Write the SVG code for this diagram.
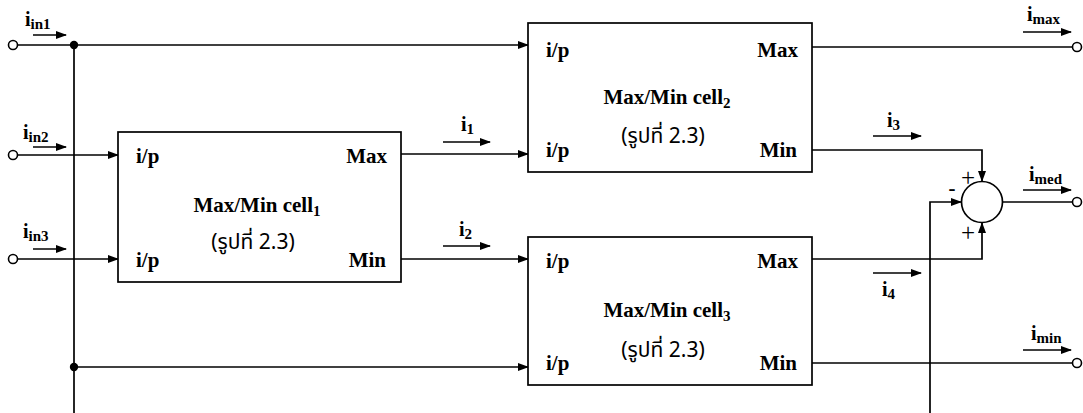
<svg xmlns="http://www.w3.org/2000/svg" width="1083" height="413" viewBox="0 0 1083 413">
<defs>
<marker id="ah" markerWidth="11" markerHeight="9" refX="10" refY="4" orient="auto" markerUnits="userSpaceOnUse"><path d="M0,0 L11,4 L0,8 Z" fill="#000"/></marker>
<style>
.w{stroke:#000;stroke-width:1.7;fill:none}
.a{stroke:#000;stroke-width:1.7;fill:none;marker-end:url(#ah)}
.box{stroke:#000;stroke-width:1.7;fill:#fff}
.t{font-family:"Liberation Serif","Times New Roman",serif;font-weight:bold;font-size:21px;fill:#000}
.l{font-family:"Liberation Serif","Times New Roman",serif;font-weight:bold;font-size:20px;fill:#000}
.s{font-size:15px}
.th{font-family:"Noto Sans Thai","Noto Sans","DejaVu Sans",sans-serif;font-size:21px;fill:#000}
.term{stroke:#000;stroke-width:1.6;fill:#fff}
.pm{font-family:"Liberation Serif",serif;font-size:25px;fill:#000}
</style>
</defs>
<rect width="1083" height="413" fill="#fff"/>
<g id="connectors">
<path class="a" d="M17,45 H528"/>
<path class="w" d="M74,45 V413"/>
<path class="a" d="M74,367 H528"/>
<path class="a" d="M17,155 H118"/>
<path class="a" d="M17,259 H118"/>
<path class="a" d="M401,154 H528"/>
<path class="a" d="M401,259 H528"/>
<path class="w" d="M812,47 H1073"/>
<path class="a" d="M812,150 H982 V181"/>
<path class="a" d="M812,259 H982 V223"/>
<path class="a" d="M930,413 V202 H961"/>
<path class="w" d="M1003,202 H1073"/>
<path class="w" d="M812,363 H1073"/>
<circle cx="74" cy="45" r="4.2" fill="#000"/>
<circle cx="74" cy="367" r="4.2" fill="#000"/>
<path class="a" d="M33,35 H66"/>
<path class="a" d="M33,147 H66"/>
<path class="a" d="M33,249 H66"/>
<path class="a" d="M443,142 H490"/>
<path class="a" d="M443,246 H490"/>
<path class="a" d="M873,136 H921"/>
<path class="a" d="M873,273 H921"/>
<path class="a" d="M1023,32 H1071"/>
<path class="a" d="M1023,190 H1071"/>
<path class="a" d="M1023,350 H1071"/>
</g>
<g id="terminals">
<circle class="term" cx="13" cy="45" r="4.5"/>
<circle class="term" cx="13" cy="155" r="4.5"/>
<circle class="term" cx="13" cy="259" r="4.5"/>
<circle class="term" cx="1077" cy="47" r="4.5"/>
<circle class="term" cx="1077" cy="202" r="4.5"/>
<circle class="term" cx="1077" cy="363" r="4.5"/>
</g>
<g id="labels">
<text class="l" x="25" y="26">i<tspan class="s" dy="3">in1</tspan></text>
<text class="l" x="23" y="139">i<tspan class="s" dy="3">in2</tspan></text>
<text class="l" x="23" y="238">i<tspan class="s" dy="3">in3</tspan></text>
<text class="l" x="461" y="131">i<tspan class="s" dy="3">1</tspan></text>
<text class="l" x="459" y="236">i<tspan class="s" dy="3">2</tspan></text>
<text class="l" x="887" y="127">i<tspan class="s" dy="3">3</tspan></text>
<text class="l" x="882" y="296">i<tspan class="s" dy="3">4</tspan></text>
<text class="l" x="1027" y="21">i<tspan class="s" dy="3">max</tspan></text>
<text class="l" x="1029" y="181">i<tspan class="s" dy="3">med</tspan></text>
<text class="l" x="1031" y="340">i<tspan class="s" dy="3">min</tspan></text>
</g>
<g id="cell1">
<rect class="box" x="118" y="132" width="283" height="150"/>
<text class="t" x="136" y="163">i/p</text>
<text class="t" x="136" y="267">i/p</text>
<text class="t" x="387" y="163" text-anchor="end">Max</text>
<text class="t" x="386" y="267" text-anchor="end">Min</text>
<text class="t" x="257" y="212" text-anchor="middle">Max/Min cell<tspan class="s" dy="4">1</tspan></text>
<text class="th" x="253" y="249" text-anchor="middle">(รูปที่ 2.3)</text>
</g>
<g id="cell2">
<rect class="box" x="528" y="23" width="284" height="149"/>
<text class="t" x="546" y="57">i/p</text>
<text class="t" x="546" y="157">i/p</text>
<text class="t" x="798" y="57" text-anchor="end">Max</text>
<text class="t" x="797" y="157" text-anchor="end">Min</text>
<text class="t" x="667" y="104" text-anchor="middle">Max/Min cell<tspan class="s" dy="4">2</tspan></text>
<text class="th" x="663" y="143" text-anchor="middle">(รูปที่ 2.3)</text>
</g>
<g id="cell3">
<rect class="box" x="528" y="237" width="284" height="148"/>
<text class="t" x="546" y="268">i/p</text>
<text class="t" x="546" y="370">i/p</text>
<text class="t" x="798" y="268" text-anchor="end">Max</text>
<text class="t" x="797" y="370" text-anchor="end">Min</text>
<text class="t" x="667" y="317" text-anchor="middle">Max/Min cell<tspan class="s" dy="4">3</tspan></text>
<text class="th" x="663" y="357" text-anchor="middle">(รูปที่ 2.3)</text>
</g>
<g id="summer">
<circle cx="982" cy="202" r="20.5" fill="#fff" stroke="#000" stroke-width="1.7"/>
<text class="pm" x="968" y="186" text-anchor="middle">+</text>
<text class="pm" x="968" y="241" text-anchor="middle">+</text>
<text class="t" x="952" y="195" text-anchor="middle">-</text>
</g>
</svg>
